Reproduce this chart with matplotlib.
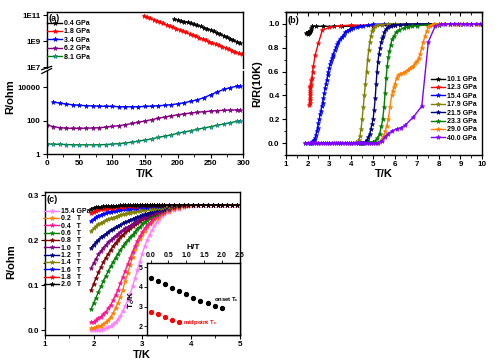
import matplotlib
matplotlib.use('Agg')
import matplotlib.pyplot as plt
from matplotlib.ticker import FixedLocator, NullLocator, MultipleLocator, FormatStrFormatter

plt.rcParams['font.family'] = ['Liberation Sans', 'DejaVu Sans']
plt.rcParams['font.weight'] = 'bold'
plt.rcParams['axes.labelweight'] = 'bold'
plt.rcParams['mathtext.default'] = 'regular'
plt.rcParams['axes.linewidth'] = 1.0

# ---------------- panel (a): R vs T at low pressure ----------------
a_T_04 = [195, 200, 205, 210, 215, 220, 225, 230, 235, 240, 245, 250, 255, 260, 265, 270, 275, 280, 285, 290, 295]
a_R_04 = [4.8e10, 4.2e10, 3.6e10, 3.1e10, 2.7e10, 2.3e10, 1.95e10, 1.6e10, 1.35e10, 1.1e10, 8.9e9,
          7.1e9, 5.6e9, 4.5e9, 3.5e9, 2.7e9, 2.1e9, 1.6e9, 1.23e9, 9.3e8, 7.1e8]
a_T_18 = [148, 153, 158, 163, 168, 173, 178, 183, 188, 193, 198, 203, 208, 213, 218, 223, 228, 233,
          238, 243, 248, 253, 258, 263, 268, 273, 278, 283, 288, 293, 298]
a_R_18 = [8.9e10, 7.1e10, 5.6e10, 4.5e10, 3.6e10, 2.9e10, 2.3e10, 1.8e10, 1.45e10, 1.15e10, 9.1e9,
          7.4e9, 5.9e9, 4.7e9, 3.7e9, 3.0e9, 2.3e9, 1.9e9, 1.5e9, 1.2e9, 9.5e8, 7.6e8, 6.0e8, 4.8e8,
          3.8e8, 3.1e8, 2.45e8, 1.95e8, 1.55e8, 1.23e8, 9.8e7]
a_T_34 = [10, 20, 30, 40, 50, 60, 70, 80, 90, 100, 110, 120, 130, 140, 150, 160, 170, 180, 190, 200,
          210, 220, 230, 240, 250, 260, 270, 280, 290, 295]
a_R_34 = [1320, 1120, 980, 890, 830, 790, 760, 740, 720, 710, 690, 680, 680, 690, 710, 740, 780, 830,
          910, 1020, 1200, 1450, 1780, 2400, 3550, 5200, 7400, 9500, 11700, 12600]
a_T_lo = [0, 10, 20, 30, 40, 50, 60, 70, 80, 90, 100, 110, 120, 130, 140, 150, 160, 170, 180, 190,
          200, 210, 220, 230, 240, 250, 260, 270, 280, 290, 295]
a_R_62 = [55, 44, 38, 35.5, 34.7, 34.7, 35.5, 36.3, 38, 40.7, 44.7, 50, 57.5, 67.6, 79.4, 95.5, 115,
          138, 166, 195, 224, 257, 288, 316, 347, 372, 398, 417, 427, 437, 437]
a_R_81 = [4.0, 3.9, 3.8, 3.7, 3.6, 3.55, 3.55, 3.55, 3.6, 3.7, 3.9, 4.2, 4.6, 5.1, 5.9, 6.9, 8.1, 9.8,
          11.7, 14.1, 17.4, 20.9, 25.1, 30.2, 36.3, 43.7, 52.5, 63.1, 75.9, 89.1, 97.7]

# ---------------- panel (b): normalised R vs T ----------------
b_T_101 = [1.95, 1.98, 2.0, 2.02, 2.05, 2.08, 2.1, 2.12, 2.15, 2.18, 2.2, 2.4, 2.7, 3.2, 3.6, 4.0,
           5.0, 6.0, 7.0, 8.0, 9.0, 10.0]
b_R_101 = [0.92, 0.925, 0.918, 0.93, 0.925, 0.935, 0.93, 0.94, 0.95, 0.965, 0.98, 0.98, 0.98, 0.98,
           0.98, 0.982, 0.985, 0.99, 0.99, 0.995, 1.0, 1.0]
b_T_123 = [2.08, 2.09, 2.09, 2.1, 2.1, 2.11, 2.11, 2.12, 2.12, 2.13, 2.15, 2.18, 2.2, 2.23, 2.27,
           2.35, 2.5, 2.68, 3.0, 3.5, 4.0, 5.0, 6.0, 7.0, 8.0, 9.0, 10.0]
b_R_123 = [0.32, 0.34, 0.36, 0.38, 0.4, 0.42, 0.44, 0.46, 0.47, 0.48, 0.5, 0.53, 0.55, 0.6, 0.65,
           0.74, 0.84, 0.95, 0.97, 0.985, 0.99, 0.99, 0.995, 1.0, 1.0, 1.0, 1.0]
b_T_154 = [2.1, 2.15, 2.19, 2.25, 2.3, 2.34, 2.38, 2.42, 2.46, 2.5, 2.54, 2.57, 2.61, 2.65, 2.69,
           2.73, 2.77, 2.8, 2.84, 2.88, 2.92, 2.95, 2.99, 3.03, 3.07, 3.11, 3.15, 3.18, 3.25, 3.31,
           3.36, 3.41, 3.48, 3.56, 3.65, 3.72, 3.79, 3.9, 4.0, 4.1, 4.25, 4.4, 4.56, 4.75, 5.0,
           5.5, 6.0, 6.5, 7.0, 7.5, 8.0, 8.5, 9.0, 9.5, 10.0]
b_R_154 = [0.0, 0.0, 0.005, 0.02, 0.03, 0.04, 0.07, 0.1, 0.13, 0.17, 0.2, 0.24, 0.27, 0.31, 0.34,
           0.38, 0.42, 0.46, 0.5, 0.53, 0.57, 0.6, 0.63, 0.66, 0.69, 0.71, 0.73, 0.75, 0.78, 0.81,
           0.83, 0.85, 0.87, 0.89, 0.91, 0.93, 0.94, 0.95, 0.96, 0.965, 0.975, 0.98, 0.986, 0.99, 0.997,
           1.0, 1.0, 1.0, 1.0, 1.0, 1.0, 1.0, 1.0, 1.0, 1.0]
b_T_179 = [4.0, 4.2, 4.3, 4.35, 4.4, 4.45, 4.5, 4.55, 4.6, 4.65, 4.7, 4.75, 4.8, 4.85, 4.9, 4.95,
           5.0, 5.1, 5.2, 5.4, 5.7, 6.0, 6.5, 7.0, 7.5, 8.0, 8.5, 9.0, 9.5, 10.0]
b_R_179 = [0.0, 0.005, 0.01, 0.03, 0.06, 0.12, 0.2, 0.3, 0.4, 0.5, 0.6, 0.7, 0.78, 0.85, 0.9, 0.94,
           0.96, 0.98, 0.99, 0.995, 1.0, 1.0, 1.0, 1.0, 1.0, 1.0, 1.0, 1.0, 1.0, 1.0]
b_T_215 = [4.3, 4.45, 4.56, 4.65, 4.72, 4.79, 4.85, 4.9, 4.95, 5.0, 5.05, 5.1, 5.14, 5.18, 5.22,
           5.27, 5.32, 5.38, 5.43, 5.47, 5.52, 5.6, 5.7, 5.8, 5.9, 6.0, 6.25, 6.5, 7.0, 7.5, 8.0,
           8.5, 9.0, 9.5, 10.0]
b_R_215 = [0.0, 0.0, 0.0, 0.01, 0.03, 0.05, 0.08, 0.12, 0.16, 0.2, 0.28, 0.38, 0.5, 0.6, 0.68,
           0.75, 0.8, 0.85, 0.88, 0.9, 0.93, 0.96, 0.975, 0.985, 0.99, 0.993, 0.995, 0.997, 1.0, 1.0,
           1.0, 1.0, 1.0, 1.0, 1.0]
b_T_233 = [1.9, 2.5, 3.0, 3.5, 4.0, 4.5, 4.8, 5.0, 5.1, 5.2, 5.3, 5.38, 5.44, 5.5, 5.55, 5.6, 5.65,
           5.7, 5.75, 5.8, 5.87, 5.96, 6.05, 6.2, 6.4, 6.6, 6.8, 7.0, 7.5, 8.0, 8.5, 9.0, 9.5, 10.0]
b_R_233 = [0.0, 0.0, 0.0, 0.0, 0.0, 0.0, 0.005, 0.01, 0.02, 0.04, 0.08, 0.14, 0.2, 0.3, 0.42, 0.55,
           0.65, 0.72, 0.77, 0.82, 0.87, 0.9, 0.93, 0.95, 0.965, 0.975, 0.98, 0.985, 0.99, 0.995,
           1.0, 1.0, 1.0, 1.0]
b_T_290 = [5.2, 5.3, 5.38, 5.45, 5.5, 5.55, 5.62, 5.7, 5.77, 5.85, 5.9, 5.95, 6.0, 6.08, 6.15, 6.25,
           6.35, 6.47, 6.58, 6.7, 6.78, 6.85, 6.92, 7.0, 7.08, 7.15, 7.23, 7.3, 7.38, 7.45, 7.52,
           7.6, 7.7, 7.8, 8.0, 8.25, 8.5, 8.75, 9.0, 9.25, 9.5, 9.75, 10.0]
b_R_290 = [0.0, 0.01, 0.03, 0.05, 0.07, 0.1, 0.14, 0.2, 0.3, 0.4, 0.44, 0.47, 0.5, 0.55, 0.57, 0.58,
           0.59, 0.6, 0.615, 0.63, 0.64, 0.65, 0.67, 0.69, 0.71, 0.75, 0.8, 0.85, 0.9, 0.94, 0.97,
           0.985, 0.995, 1.0, 1.0, 1.0, 1.0, 1.0, 1.0, 1.0, 1.0, 1.0, 1.0]
b_T_400 = [1.9, 2.0, 2.1, 2.2, 2.3, 2.4, 2.5, 2.6, 2.7, 2.8, 2.9, 3.0, 3.1, 3.2, 3.3, 3.4, 3.5,
           3.6, 3.7, 3.8, 3.9, 4.0, 4.1, 4.2, 4.3, 4.4, 4.5, 4.6, 4.7, 4.8, 4.9, 5.0, 5.1, 5.24,
           5.4, 5.55, 5.7, 5.85, 6.08, 6.3, 6.47, 6.85, 7.23, 7.53, 7.84, 8.1, 8.3, 8.5, 8.7, 8.9,
           9.1, 9.3, 9.5, 9.7, 9.9, 10.0]
b_R_400 = [0.0, 0.0, 0.0, 0.0, 0.0, 0.0, 0.0, 0.0, 0.0, 0.0,
           0.0, 0.0, 0.0, 0.0, 0.0, 0.0, 0.0, 0.0, 0.0, 0.0,
           0.0, 0.0, 0.0, 0.0, 0.0, 0.0, 0.0, 0.0, 0.0, 0.0,
           0.0, 0.0, 0.0, 0.0,
           0.02, 0.05, 0.08, 0.1, 0.12, 0.13, 0.15, 0.22, 0.31, 0.85, 0.98,
           1.0, 1.0, 1.0, 1.0, 1.0, 1.0, 1.0, 1.0, 1.0, 1.0, 1.0]

# ---------------- panel (c): R vs T in field at 15.4 GPa ----------------
c_T = [1.95, 2.0, 2.05, 2.1, 2.15, 2.2, 2.25, 2.3, 2.35, 2.4,
       2.45, 2.5, 2.55, 2.6, 2.65, 2.7, 2.75, 2.8, 2.85, 2.9,
       2.95, 3.0, 3.05, 3.1, 3.15, 3.2, 3.25, 3.3, 3.35, 3.4,
       3.45, 3.55, 3.65, 3.75, 3.85, 3.95, 4.05, 4.15, 4.25, 4.35,
       4.45, 4.55, 4.65, 4.75, 4.85, 4.95]
c_R_00 = [0.000, 0.000, 0.000, 0.001, 0.001, 0.002, 0.004, 0.006, 0.009, 0.013,
          0.018, 0.024, 0.032, 0.042, 0.054, 0.066, 0.080, 0.097, 0.115, 0.133,
          0.152, 0.170, 0.186, 0.200, 0.212, 0.223, 0.232, 0.240, 0.247, 0.253,
          0.258, 0.262, 0.266, 0.270, 0.273, 0.275, 0.276, 0.277, 0.278, 0.278,
          0.278, 0.278, 0.278, 0.278, 0.278, 0.278]
c_R_02 = [0.004, 0.005, 0.006, 0.008, 0.010, 0.013, 0.017, 0.022, 0.029, 0.038,
          0.049, 0.061, 0.074, 0.090, 0.108, 0.126, 0.144, 0.163, 0.180, 0.192,
          0.203, 0.212, 0.220, 0.228, 0.235, 0.241, 0.246, 0.250, 0.254, 0.257,
          0.260, 0.264, 0.268, 0.271, 0.274, 0.276, 0.277, 0.278, 0.278, 0.278,
          0.278, 0.278, 0.278, 0.278, 0.278, 0.278]
c_R_04 = [0.017, 0.019, 0.022, 0.026, 0.030, 0.035, 0.041, 0.048, 0.056, 0.066,
          0.078, 0.090, 0.104, 0.118, 0.132, 0.146, 0.160, 0.174, 0.187, 0.199,
          0.209, 0.218, 0.226, 0.233, 0.239, 0.244, 0.249, 0.253, 0.257, 0.260,
          0.263, 0.267, 0.271, 0.274, 0.276, 0.277, 0.278, 0.278, 0.278, 0.278,
          0.278, 0.278, 0.278, 0.278, 0.278, 0.278]
c_R_06 = [0.047, 0.060, 0.072, 0.085, 0.097, 0.109, 0.120, 0.131, 0.142, 0.152,
          0.161, 0.170, 0.178, 0.186, 0.193, 0.200, 0.206, 0.212, 0.219, 0.225,
          0.230, 0.235, 0.240, 0.245, 0.249, 0.253, 0.256, 0.259, 0.262, 0.264,
          0.266, 0.270, 0.273, 0.275, 0.277, 0.278, 0.278, 0.278, 0.278, 0.278,
          0.278, 0.278, 0.278, 0.278, 0.278, 0.278]
c_R_08 = [0.089, 0.103, 0.116, 0.128, 0.140, 0.151, 0.161, 0.170, 0.179, 0.187,
          0.194, 0.200, 0.206, 0.212, 0.217, 0.222, 0.227, 0.231, 0.235, 0.239,
          0.243, 0.246, 0.249, 0.252, 0.255, 0.257, 0.259, 0.262, 0.264, 0.266,
          0.268, 0.271, 0.274, 0.276, 0.277, 0.278, 0.278, 0.278, 0.278, 0.278,
          0.278, 0.278, 0.278, 0.278, 0.278, 0.278]
c_R_10 = [0.138, 0.149, 0.159, 0.168, 0.176, 0.183, 0.189, 0.195, 0.200, 0.205,
          0.210, 0.214, 0.218, 0.222, 0.226, 0.229, 0.232, 0.236, 0.240, 0.243,
          0.246, 0.249, 0.252, 0.254, 0.257, 0.259, 0.261, 0.263, 0.265, 0.267,
          0.269, 0.272, 0.275, 0.277, 0.278, 0.278, 0.278, 0.278, 0.278, 0.278,
          0.278, 0.278, 0.278, 0.278, 0.278, 0.278]
c_R_12 = [0.183, 0.190, 0.196, 0.201, 0.206, 0.210, 0.214, 0.218, 0.222, 0.225,
          0.228, 0.231, 0.234, 0.237, 0.240, 0.242, 0.245, 0.247, 0.249, 0.251,
          0.253, 0.255, 0.257, 0.259, 0.261, 0.262, 0.264, 0.266, 0.268, 0.269,
          0.270, 0.273, 0.275, 0.277, 0.278, 0.278, 0.278, 0.278, 0.278, 0.278,
          0.278, 0.278, 0.278, 0.278, 0.278, 0.278]
c_R_14 = [0.220, 0.226, 0.231, 0.235, 0.238, 0.241, 0.244, 0.246, 0.248, 0.250,
          0.252, 0.254, 0.256, 0.257, 0.259, 0.260, 0.261, 0.262, 0.263, 0.264,
          0.265, 0.266, 0.267, 0.268, 0.269, 0.270, 0.270, 0.271, 0.272, 0.272,
          0.273, 0.274, 0.276, 0.277, 0.278, 0.278, 0.278, 0.278, 0.278, 0.278,
          0.278, 0.278, 0.278, 0.278, 0.278, 0.278]
c_R_16 = [0.243, 0.247, 0.251, 0.254, 0.256, 0.258, 0.260, 0.262, 0.263, 0.264,
          0.265, 0.266, 0.267, 0.268, 0.269, 0.270, 0.270, 0.271, 0.272, 0.272,
          0.273, 0.273, 0.274, 0.274, 0.275, 0.275, 0.275, 0.276, 0.276, 0.276,
          0.277, 0.277, 0.277, 0.278, 0.278, 0.278, 0.278, 0.278, 0.278, 0.278,
          0.278, 0.278, 0.278, 0.278, 0.278, 0.278]
c_R_18 = [0.260, 0.263, 0.265, 0.267, 0.268, 0.269, 0.270, 0.271, 0.272, 0.272,
          0.273, 0.273, 0.274, 0.274, 0.275, 0.275, 0.275, 0.276, 0.276, 0.276,
          0.277, 0.277, 0.277, 0.277, 0.277, 0.278, 0.278, 0.278, 0.278, 0.278,
          0.278, 0.278, 0.278, 0.278, 0.278, 0.278, 0.278, 0.278, 0.278, 0.278,
          0.278, 0.278, 0.278, 0.278, 0.278, 0.278]
c_R_20 = [0.270, 0.272, 0.273, 0.274, 0.274, 0.275, 0.275, 0.275, 0.276, 0.276,
          0.276, 0.276, 0.277, 0.277, 0.277, 0.277, 0.277, 0.277, 0.278, 0.278,
          0.278, 0.278, 0.278, 0.278, 0.278, 0.278, 0.278, 0.278, 0.278, 0.278,
          0.278, 0.278, 0.278, 0.278, 0.278, 0.278, 0.278, 0.278, 0.278, 0.278,
          0.278, 0.278, 0.278, 0.278, 0.278, 0.278]

# inset: Tc vs field
in_H_on = [0.0, 0.2, 0.4, 0.6, 0.8, 1.0, 1.2, 1.4, 1.6, 1.8, 2.0]
in_T_on = [4.47, 4.31, 4.16, 3.93, 3.78, 3.62, 3.43, 3.28, 3.16, 3.03, 2.91]
in_H_mid = [0.0, 0.2, 0.4, 0.6, 0.8]
in_T_mid = [2.74, 2.62, 2.47, 2.33, 2.22]

W, H = 500, 363
fig = plt.figure(figsize=(W / 100, H / 100), dpi=100)


def box(l, t, r, b):
    return [l / W, 1 - b / H, (r - l) / W, (b - t) / H]


def style(ax, fs=5.8):
    ax.tick_params(direction='out', length=3, width=0.8, labelsize=fs, pad=1.5)
    ax.tick_params(which='minor', direction='out', length=1.8, width=0.6)
    for lab in ax.get_xticklabels() + ax.get_yticklabels():
        lab.set_fontweight('bold')


mk = dict(marker='*', ms=3.5, lw=1.0, mew=0.4)

# ---- (a) broken log axis ----
ax_a1 = fig.add_axes(box(46.7, 12, 243.3, 68))
ax_a2 = fig.add_axes(box(46.7, 71, 243.3, 154))
h1, = ax_a1.plot(a_T_04, a_R_04, color='black', **mk)
h2, = ax_a1.plot(a_T_18, a_R_18, color='red', **mk)
h3, = ax_a2.plot(a_T_34, a_R_34, color='blue', **mk)
h4, = ax_a2.plot(a_T_lo, a_R_62, color='#800080', **mk)
h5, = ax_a2.plot(a_T_lo, a_R_81, color='#008000', mfc='#1aa3a3', mec='#008080', **mk)
for ax in (ax_a1, ax_a2):
    ax.set_yscale('log')
    ax.set_xlim(0, 300)
    ax.yaxis.set_minor_locator(NullLocator())
    ax.xaxis.set_major_locator(MultipleLocator(50))
    ax.xaxis.set_minor_locator(MultipleLocator(25))
ax_a1.set_ylim(9.1e6, 1.7e11)
ax_a1.yaxis.set_major_locator(FixedLocator([1e7, 1e9, 1e11]))
ax_a1.set_yticklabels(['1E7', '1E9', '1E11'])
ax_a2.set_ylim(1, 9.5e4)
ax_a2.yaxis.set_major_locator(FixedLocator([1, 100, 10000]))
ax_a2.set_yticklabels(['1', '100', '10000'])
ax_a1.spines['bottom'].set_visible(False)
ax_a2.spines['top'].set_visible(False)
ax_a1.tick_params(axis='x', bottom=False, labelbottom=False, which='both')
style(ax_a1)
style(ax_a2)
for ax, y0 in ((ax_a1, 0.0), (ax_a2, 1.0)):
    ax.plot([-0.025, 0.025], [y0 - 0.03, y0 + 0.03], transform=ax.transAxes,
            color='black', lw=0.9, clip_on=False)
ax_a1.text(0.008, 0.97, '(a)', transform=ax_a1.transAxes, fontsize=6.5,
           fontweight='bold', va='top', ha='left')
ax_a1.legend([h1, h2, h3, h4, h5], ['0.4 GPa', '1.8 GPa', '3.4 GPa', '6.2 GPa', '8.1 GPa'],
             loc='upper left', bbox_to_anchor=(47 / W, 1 - 20 / H), bbox_transform=fig.transFigure,
             frameon=False, handlelength=2.2, handletextpad=0.3,
             labelspacing=0.2, borderpad=0, borderaxespad=0, numpoints=1,
             prop={'weight': 'bold', 'size': 5})
fig.text(10 / W, 1 - 97 / H, 'R/ohm', rotation=90, ha='center', va='center',
         fontsize=8, fontweight='bold')
fig.text(145 / W, 1 - 174 / H, 'T/K', ha='center', va='center', fontsize=8, fontweight='bold')

# ---- (b) ----
ax_b = fig.add_axes(box(285.7, 12, 482.3, 155))
b_series = [
    (b_T_101, b_R_101, 'black', '10.1 GPa'),
    (b_T_123, b_R_123, 'red', '12.3 GPa'),
    (b_T_154, b_R_154, 'blue', '15.4 GPa'),
    (b_T_179, b_R_179, '#808000', '17.9 GPa'),
    (b_T_215, b_R_215, '#000080', '21.5 GPa'),
    (b_T_233, b_R_233, '#008000', '23.3 GPa'),
    (b_T_290, b_R_290, '#ff8000', '29.0 GPa'),
    (b_T_400, b_R_400, '#8000ff', '40.0 GPa'),
]
for T, R, c, lab in b_series:
    ax_b.plot(T, R, color=c, label=lab, marker='*', ms=3.4, lw=1.0, mew=0.4)
ax_b.set_xlim(1, 10)
ax_b.set_ylim(-0.1, 1.1)
ax_b.xaxis.set_major_locator(MultipleLocator(1))
ax_b.xaxis.set_minor_locator(MultipleLocator(0.5))
ax_b.yaxis.set_major_locator(MultipleLocator(0.2))
ax_b.yaxis.set_minor_locator(MultipleLocator(0.1))
ax_b.yaxis.set_major_formatter(FormatStrFormatter('%.1f'))
style(ax_b)
sec = ax_b.secondary_xaxis('top')
sec.xaxis.set_major_locator(MultipleLocator(1))
sec.xaxis.set_minor_locator(MultipleLocator(0.5))
sec.tick_params(direction='in', length=3, width=0.8, labeltop=False)
sec.tick_params(which='minor', direction='in', length=1.8, width=0.6)
ax_b.text(0.01, 0.975, '(b)', transform=ax_b.transAxes, fontsize=6.5,
          fontweight='bold', va='top', ha='left')
ax_b.legend(loc='upper left', bbox_to_anchor=(431 / W, 1 - 76 / H), bbox_transform=fig.transFigure,
            frameon=False, handlelength=2.0, handletextpad=0.3, labelspacing=0.2,
            borderpad=0, borderaxespad=0, numpoints=1, prop={'weight': 'bold', 'size': 5})
fig.text(257 / W, 1 - 84 / H, 'R/R(10K)', rotation=90, ha='center', va='center',
         fontsize=8, fontweight='bold')
fig.text(384 / W, 1 - 174 / H, 'T/K', ha='center', va='center', fontsize=8, fontweight='bold')

# ---- (c) ----
ax_c = fig.add_axes(box(45, 191.7, 239.5, 335))
c_series = [
    (c_R_00, '#ff80ff', '15.4 GPa'),
    (c_R_02, '#ff8000', '0.2   T'),
    (c_R_04, '#ff1493', '0.4   T'),
    (c_R_06, '#008000', '0.6   T'),
    (c_R_08, '#800000', '0.8   T'),
    (c_R_10, '#800080', '1.0   T'),
    (c_R_12, '#000080', '1.2   T'),
    (c_R_14, '#808000', '1.4   T'),
    (c_R_16, '#0000ff', '1.6   T'),
    (c_R_18, '#ff0000', '1.8   T'),
    (c_R_20, '#000000', '2.0   T'),
]
for R, c, lab in c_series:
    ax_c.plot(c_T, R, color=c, label=lab, marker='*', ms=3.4, lw=1.0, mew=0.4)
ax_c.set_xlim(1, 5)
ax_c.set_ylim(-0.011, 0.3075)
ax_c.xaxis.set_major_locator(MultipleLocator(1))
ax_c.xaxis.set_minor_locator(MultipleLocator(0.5))
ax_c.yaxis.set_major_locator(MultipleLocator(0.1))
ax_c.yaxis.set_minor_locator(MultipleLocator(0.05))
ax_c.yaxis.set_major_formatter(FormatStrFormatter('%.1f'))
style(ax_c)
ax_c.text(0.008, 0.975, '(c)', transform=ax_c.transAxes, fontsize=6.5,
          fontweight='bold', va='top', ha='left')
ax_c.legend(loc='upper left', bbox_to_anchor=(44 / W, 1 - 208 / H), bbox_transform=fig.transFigure,
            frameon=False, handlelength=2.2, handletextpad=0.3, labelspacing=0.05,
            borderpad=0, borderaxespad=0, numpoints=1, prop={'weight': 'bold', 'size': 5})
fig.text(11 / W, 1 - 262 / H, 'R/ohm', rotation=90, ha='center', va='center',
         fontsize=8, fontweight='bold')
fig.text(142 / W, 1 - 355 / H, 'T/K', ha='center', va='center', fontsize=8, fontweight='bold')

# ---- inset ----
ax_i = fig.add_axes(box(146.7, 263.3, 239.5, 335))
ax_i.plot(in_H_on, in_T_on, 'o', color='black', ms=2.8)
ax_i.plot(in_H_mid, in_T_mid, 'o', color='red', ms=2.8)
ax_i.set_xlim(-0.11, 2.5)
ax_i.set_ylim(1.55, 5.2)
ax_i.xaxis.tick_top()
ax_i.xaxis.set_label_position('top')
ax_i.xaxis.set_major_locator(MultipleLocator(0.5))
ax_i.xaxis.set_major_formatter(FormatStrFormatter('%.1f'))
ax_i.yaxis.set_major_locator(MultipleLocator(1))
ax_i.tick_params(direction='out', length=2, width=0.6, labelsize=5, pad=1)
for lab in ax_i.get_xticklabels() + ax_i.get_yticklabels():
    lab.set_fontweight('bold')
ax_i.set_xlabel('H/T', fontsize=6, fontweight='bold', labelpad=2)
ax_i.set_ylabel('T$_c$/K', fontsize=6, fontweight='bold', labelpad=1)
ax_i.text(1.78, 3.35, 'onset T$_c$', fontsize=4.2, fontweight='bold', color='black',
          ha='left', va='center')
ax_i.text(0.92, 2.2, 'midpoint T$_c$', fontsize=4.2, fontweight='bold', color='red',
          ha='left', va='center')

fig.savefig('out.png', dpi=100)
